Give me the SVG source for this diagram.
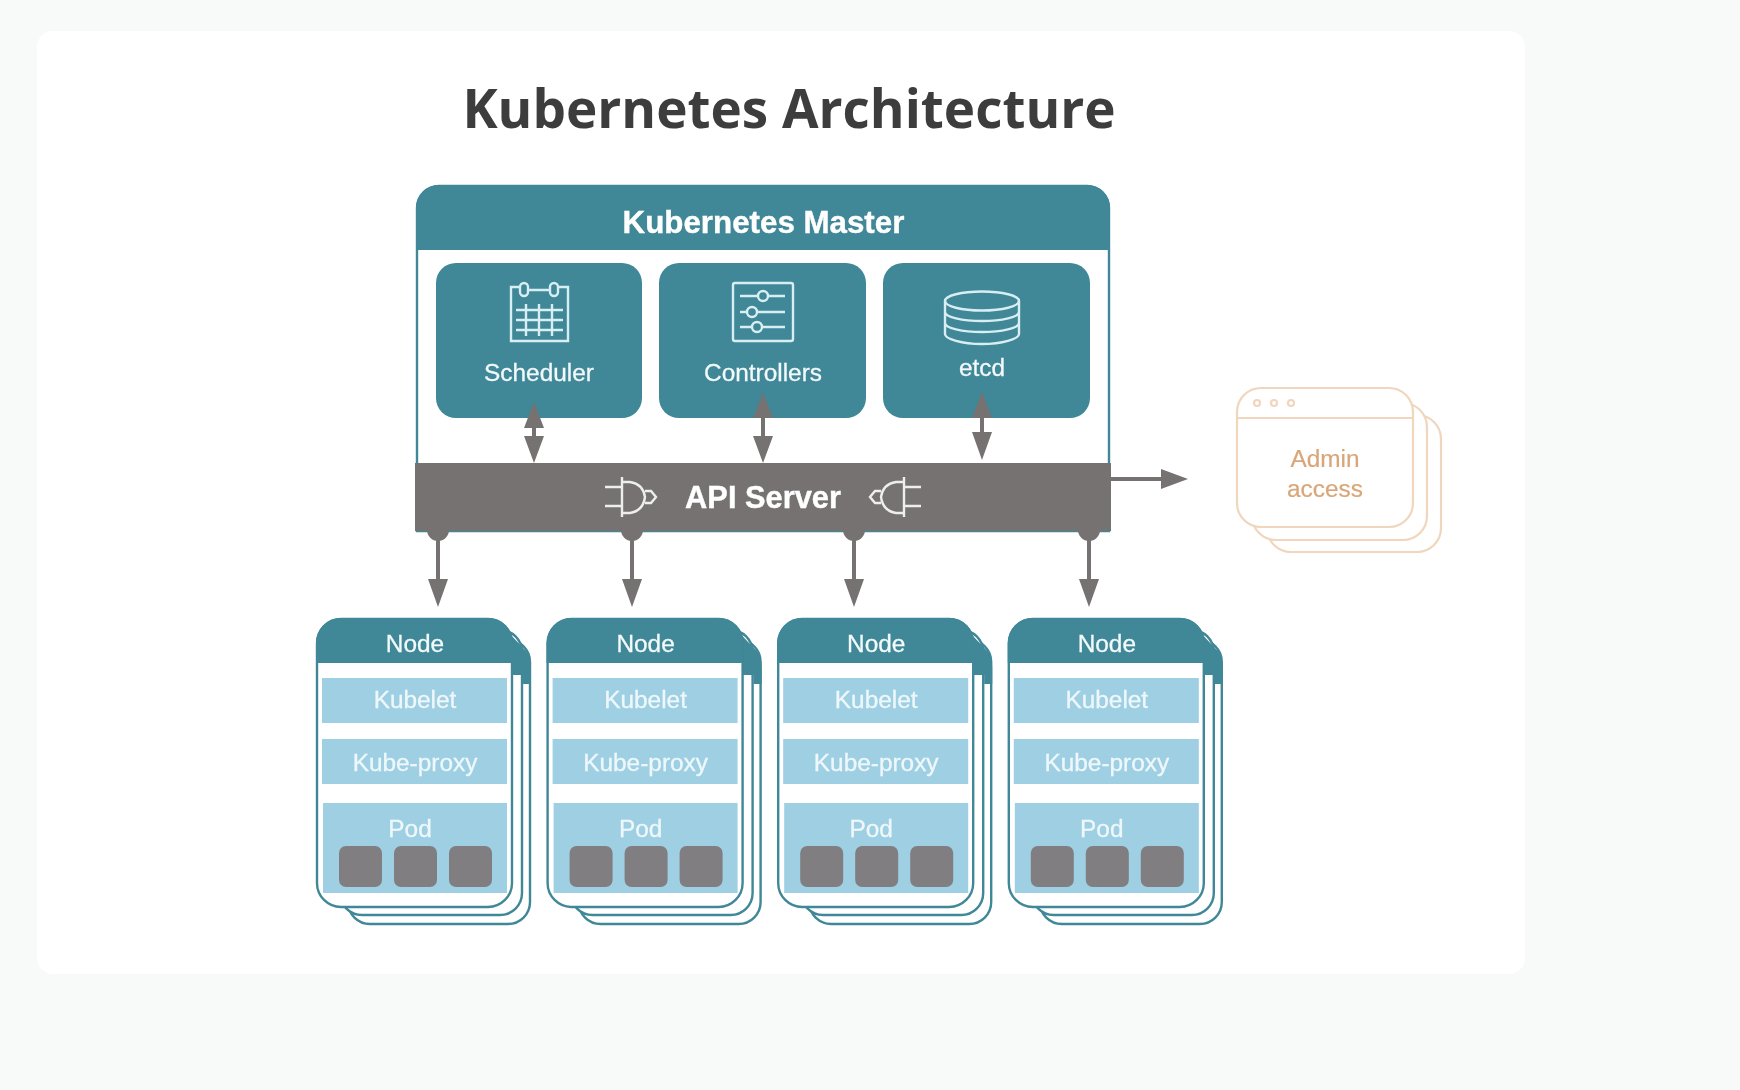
<svg xmlns="http://www.w3.org/2000/svg" width="1740" height="1090" viewBox="0 0 1740 1090">
<style>
text{font-family:"Liberation Sans",Arial,sans-serif;text-anchor:middle}
.title{font-family:"Open Sans","Noto Sans",sans-serif;font-weight:700;font-size:53px;fill:#3d3d3d}
.hb{font-weight:700;fill:#fff;stroke:#fff;stroke-width:.4}
.t{font-size:24.4px;fill:#f2fafb;stroke:#f2fafb;stroke-width:.3}
.n{font-size:24.4px;fill:#eef8fb;stroke:#eef8fb;stroke-width:.3}
.ic{fill:none;stroke:#d7eef2;stroke-width:2.4}
.pl{fill:none;stroke:#eee;stroke-width:2.4}
.teal{fill:#3f8797}
.page{fill:#fff;stroke:#3f8797;stroke-width:2.4}
.lb{fill:#9fcfe3}
.sq{fill:#807e80}
.ar{fill:#767272}
.ln{stroke:#767272;stroke-width:4;fill:none}
.ad{fill:#fff;stroke:#efd6bc;stroke-width:2.2}
.at{font-size:24.4px;fill:#d9a679;stroke:#d9a679;stroke-width:.2}
</style>
<defs>
<filter id="soft" x="-2%" y="-2%" width="104%" height="104%"><feGaussianBlur stdDeviation="0.6"/></filter>
<g id="stack">
<rect class="page" x="348" y="640" width="182" height="284" rx="22"/>
<rect class="page" x="340" y="630" width="182" height="285" rx="22"/>
<path class="teal" d="M508 632L526 651Q531 657 531 668V684H523V675H508Z"/>
<rect class="page" x="317" y="619" width="195" height="288" rx="24"/>
<path class="teal" d="M316 663V643A25 25 0 0 1 341 618H488A25 25 0 0 1 513 643V663Z"/>
<rect class="lb" x="322" y="678" width="185" height="45"/>
<rect class="lb" x="322" y="739" width="185" height="45"/>
<rect class="lb" x="323" y="803" width="184" height="90"/>
<rect class="sq" x="339" y="846" width="43" height="41" rx="7"/>
<rect class="sq" x="394" y="846" width="43" height="41" rx="7"/>
<rect class="sq" x="449" y="846" width="43" height="41" rx="7"/>
</g>
</defs>
<rect width="1740" height="1090" fill="#f8faf9"/>
<rect x="37" y="31" width="1488" height="943" rx="16" fill="#fff"/>
<text class="title" x="789" y="128">Kubernetes Architecture</text>
<g filter="url(#soft)">
<g id="master">
<path d="M417 531V208A22 22 0 0 1 439 186H1087A22 22 0 0 1 1109 208V531Z" fill="#fff" stroke="#3f8797" stroke-width="2.400"/>
<path class="teal" d="M416 250V208A23 23 0 0 1 439 185H1087A23 23 0 0 1 1110 208V250Z"/>
<text class="hb" x="763.500" y="233" font-size="31.300">Kubernetes Master</text>
</g>
<g id="scheduler">
<rect class="teal" x="436" y="263" width="206" height="155" rx="20"/>
<path class="ic" d="M520 287H511V341H568V287H558M528 290H550M516 310H563M516 320H563M516 330H563M526 304V336M539 304V336M552 304V336"/>
<rect class="ic" x="520" y="283" width="8" height="13" rx="4"/><rect class="ic" x="550" y="283" width="8" height="13" rx="4"/>
<text class="t" x="539" y="381">Scheduler</text>
</g>
<g id="controllers">
<rect class="teal" x="659" y="263" width="207" height="155" rx="20"/>
<rect class="ic" x="733" y="283" width="60" height="58" rx="2"/>
<path class="ic" d="M740 296H758M768 296H785M740 312H747M757 312H785M740 327H752M762 327H785"/>
<circle class="ic" cx="763" cy="296" r="5"/><circle class="ic" cx="752" cy="312" r="5"/><circle class="ic" cx="757" cy="327" r="5"/>
<text class="t" x="763" y="381">Controllers</text>
</g>
<g id="etcd">
<rect class="teal" x="883" y="263" width="207" height="155" rx="20"/>
<ellipse class="ic" cx="982" cy="301" rx="37" ry="9.500"/>
<path class="ic" d="M945 301V334C945 339 962 344 982 344S1019 339 1019 334V301M945 312C945 317 962 321 982 321S1019 317 1019 312M945 323C945 328 962 332 982 332S1019 328 1019 323"/>
<text class="t" x="982" y="376">etcd</text>
</g>
<g id="api-server">
<rect x="415" y="463" width="696" height="68" fill="#767272"/>
<circle class="ar" cx="438" cy="530" r="11"/><circle class="ar" cx="632" cy="530" r="11"/><circle class="ar" cx="854" cy="530" r="11"/><circle class="ar" cx="1089" cy="530" r="11"/>
<path class="pl" d="M622 477V517M605 487H622M605 506H622M622 482H630Q643 484 645 497Q643 511 630 513H622"/><path class="pl" d="M645 491H651L656 497L651 503H645"/>
<path class="pl" d="M904 477V517M921 487H904M921 506H904M904 482H896Q883 484 881 497Q883 511 896 513H904"/><path class="pl" d="M881 491H875L870 497L875 503H881"/>
<text class="hb" x="763" y="508" font-size="30.800">API Server</text>
</g>
<g id="connectors">
<path class="ln" d="M534 410V455M763 410V455M982 410V452"/>
<path class="ar" d="M534 402L544 428H524ZM534 463L544 436H524ZM763 393L773 418H753ZM763 463L773 436H753ZM982 392L992 418H972ZM982 460L992 432H972Z"/>
<path class="ln" d="M438 535V590M632 535V590M854 535V590M1089 535V590"/>
<path class="ar" d="M438 607L448 579H428ZM632 607L642 579H622ZM854 607L864 579H844ZM1089 607L1099 579H1079Z"/>
<path class="ln" d="M1110 479H1170"/>
<path class="ar" d="M1188 479L1161 469V489Z"/>
</g>
<g id="node-1"><use href="#stack"/>
<text class="t" x="415" y="652">Node</text><text class="n" x="415" y="708">Kubelet</text><text class="n" x="415" y="771">Kube-proxy</text><text class="n" x="410" y="837">Pod</text></g>
<g id="node-2" transform="translate(230.600 0)"><use href="#stack"/>
<text class="t" x="415" y="652">Node</text><text class="n" x="415" y="708">Kubelet</text><text class="n" x="415" y="771">Kube-proxy</text><text class="n" x="410" y="837">Pod</text></g>
<g id="node-3" transform="translate(461.200 0)"><use href="#stack"/>
<text class="t" x="415" y="652">Node</text><text class="n" x="415" y="708">Kubelet</text><text class="n" x="415" y="771">Kube-proxy</text><text class="n" x="410" y="837">Pod</text></g>
<g id="node-4" transform="translate(691.800 0)"><use href="#stack"/>
<text class="t" x="415" y="652">Node</text><text class="n" x="415" y="708">Kubelet</text><text class="n" x="415" y="771">Kube-proxy</text><text class="n" x="410" y="837">Pod</text></g>
<g id="admin">
<rect class="ad" x="1267" y="415" width="174" height="137" rx="24"/>
<rect class="ad" x="1252" y="403" width="175" height="137" rx="24"/>
<rect class="ad" x="1237" y="388" width="176" height="139" rx="24"/>
<path class="ad" d="M1237 418H1413"/>
<circle class="ad" cx="1257" cy="403" r="3"/><circle class="ad" cx="1274" cy="403" r="3"/><circle class="ad" cx="1291" cy="403" r="3"/>
<text class="at" x="1325" y="467">Admin</text>
<text class="at" x="1325" y="497">access</text>
</g>
</g>
</svg>
